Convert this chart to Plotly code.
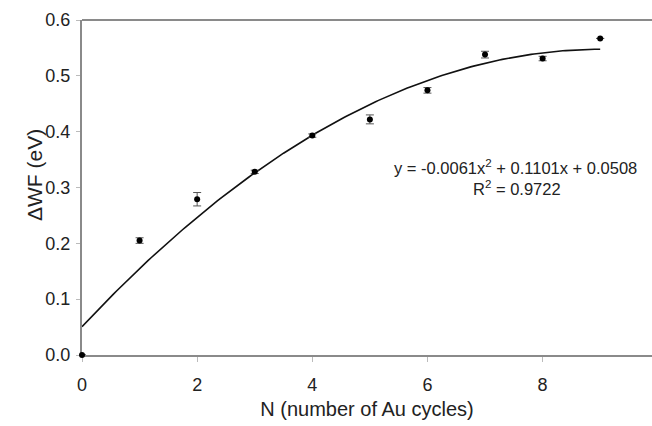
import plotly.graph_objects as go

# Data
cycles = [0, 1, 2, 3, 4, 5, 6, 7, 8, 9]
delta_wf = [0.0, 0.205, 0.279, 0.328, 0.393, 0.422, 0.474, 0.538, 0.531, 0.567]
wf_err = [0.0, 0.005, 0.012, 0.003, 0.003, 0.008, 0.005, 0.006, 0.004, 0.0]

# Quadratic trendline coefficients (as printed on the chart)
coef_a = -0.0061
coef_b = 0.1101
coef_c = 0.0508
r_squared = 0.9722

fit_x = [i * 0.05 for i in range(0, 181)]
fit_y = [coef_a * x * x + coef_b * x + coef_c for x in fit_x]

FONT = "Arial, Liberation Sans, sans-serif"
AXIS_GRAY = "#8a8a8a"
TEXT = "#222222"

fig = go.Figure()
fig.add_trace(go.Scatter(
    x=fit_x, y=fit_y, mode="lines",
    line=dict(color="#111111", width=1.6),
    showlegend=False, hoverinfo="skip",
))
fig.add_trace(go.Scatter(
    x=cycles, y=delta_wf, mode="markers",
    marker=dict(color="#000000", size=6),
    cliponaxis=False,
    error_y=dict(type="data", array=wf_err, visible=True,
                 color="#555555", thickness=1, width=4),
    showlegend=False,
))

fig.add_annotation(
    x=7.53, y=0.337, xref="x", yref="y", showarrow=False,
    text=f"y = {coef_a:.4f}x<sup>2</sup> + {coef_b:.4f}x + {coef_c:.4f}",
    font=dict(family=FONT, size=16.5, color=TEXT),
)
fig.add_annotation(
    x=7.55, y=0.299, xref="x", yref="y", showarrow=False,
    text=f"R<sup>2</sup> = {r_squared:.4f}",
    font=dict(family=FONT, size=16.5, color=TEXT),
)
# y-axis title
fig.add_annotation(
    x=-0.108, y=0.537, xref="paper", yref="paper", showarrow=False,
    text="ΔWF (eV)", textangle=-90,
    font=dict(family=FONT, size=21, color=TEXT),
)

fig.add_shape(type="line", xref="paper", yref="paper", layer="below",
              x0=0, x1=1, y0=1, y1=1,
              line=dict(color=AXIS_GRAY, width=2))

fig.update_layout(
    width=652, height=426,
    margin=dict(l=82, r=0, t=20, b=71),
    paper_bgcolor="white", plot_bgcolor="white",
    font=dict(family=FONT, color=TEXT),
    xaxis=dict(
        range=[0, 9.9], tickvals=[0, 2, 4, 6, 8],
        showgrid=False, zeroline=False, automargin=False,
        layer="below traces",
        showline=True, linecolor=AXIS_GRAY, linewidth=2,
        ticks="outside", ticklen=5, tickcolor="#bbbbbb", tickwidth=1,
        ticklabelstandoff=7,
        tickfont=dict(family=FONT, size=18, color=TEXT),
        title=dict(text="N (number of Au cycles)",
                   font=dict(family=FONT, size=20, color=TEXT),
                   standoff=8),
    ),
    yaxis=dict(
        range=[0, 0.6], tickvals=[0, 0.1, 0.2, 0.3, 0.4, 0.5, 0.6],
        tickformat=".1f",
        showgrid=False, zeroline=False, automargin=False,
        layer="below traces",
        showline=True, linecolor=AXIS_GRAY, linewidth=2,
        ticks="outside", ticklen=4, tickcolor="#bbbbbb", tickwidth=1,
        ticklabelstandoff=2,
        tickfont=dict(family=FONT, size=18, color=TEXT),
    ),
)

fig.write_html(
    "out.html",
    config={"displayModeBar": False},
    post_script="document.body.style.margin='0';document.body.style.overflow='hidden';",
)
